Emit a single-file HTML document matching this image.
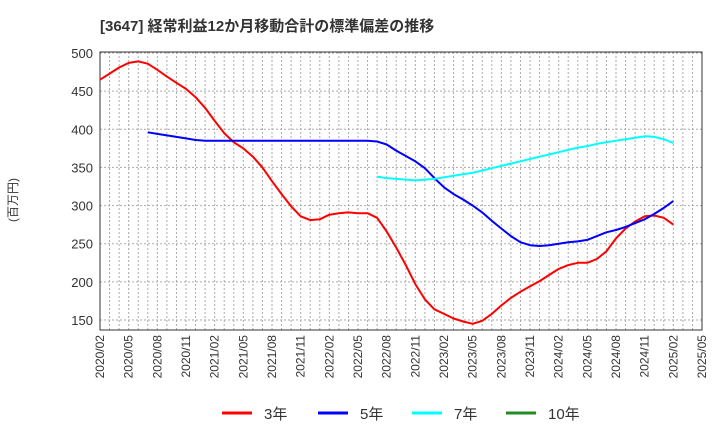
<!DOCTYPE html>
<html><head><meta charset="utf-8"><style>
body{margin:0;background:#fff;width:720px;height:440px;overflow:hidden;font-family:"Liberation Sans","Noto Sans CJK JP",sans-serif}
</style></head><body>
<svg id="c" width="720" height="440" xmlns="http://www.w3.org/2000/svg">
<text x="100" y="31" font-size="15" font-weight="bold" fill="#333" font-family="Liberation Sans, Noto Sans CJK JP, sans-serif">[3647]  経常利益12か月移動合計の標準偏差の推移</text>
<text transform="translate(17,200) rotate(-90)" text-anchor="middle" font-size="12" fill="#333" font-family="Liberation Sans, Noto Sans CJK JP, sans-serif">(百万円)</text>
<g id="grid"></g><g id="axes"></g><g id="series"></g><g id="legend"></g>
</svg>
<script>
const xLabels=["2020/02","2020/05","2020/08","2020/11","2021/02","2021/05","2021/08","2021/11","2022/02","2022/05","2022/08","2022/11","2023/02","2023/05","2023/08","2023/11","2024/02","2024/05","2024/08","2024/11","2025/02","2025/05"];
const yTicks=[150,200,250,300,350,400,450,500];
const s3=[465,473,481,487,489,486,478,469,461,453,442,428,411,395,383,375,364,350,332,315,299,286,281,282,288,290,291,290,290,284,266,245,222,197,177,164,158,152,148,145,149,158,169,179,187,194,201,209,217,222,225,225,230,240,257,270,279,286,287,284,275];
const s5=[396,394,392,390,388,386,385,385,385,385,385,385,385,385,385,385,385,385,385,385,385,385,385,385,384,380,372,365,358,349,336,324,315,308,300,291,280,270,260,252,248,247,248,250,252,253,255,260,265,268,272,277,282,289,297,306];
const s7=[338,336,335,334,333,334,335,337,339,341,343,346,349,352,355,358,361,364,367,370,373,376,378,381,383,385,387,389,391,390,387,382];
const s10=[];
const start5=5, start7=29;
const L=100,R=702,T=52,B=330,months=63;
const X=i=>L+(R-L)*i/months;
const Y=v=>53+(500-v)*(320-53)/350;
const ns="http://www.w3.org/2000/svg";
function mk(p,t,a){const e=document.createElementNS(ns,t);for(const k in a)e.setAttribute(k,a[k]);p.appendChild(e);return e;}
const grid=document.getElementById('grid'),axes=document.getElementById('axes'),ser=document.getElementById('series'),leg=document.getElementById('legend');
for(let i=1;i<months;i++){const l=mk(grid,'line',{x1:X(i),x2:X(i),y1:T,y2:B,stroke:'#aaa','stroke-width':1,'stroke-dasharray':'2,2'});

}
yTicks.forEach(v=>{const l=mk(grid,'line',{x1:L,x2:R,y1:Y(v),y2:Y(v),stroke:'#aaa','stroke-width':1,'stroke-dasharray':'2,2'});


const t=mk(axes,'text',{x:L-7,y:Y(v)+5,'text-anchor':'end','font-size':13,fill:'#333'});t.textContent=v;

});
const fr=mk(axes,'rect',{x:L,y:T,width:R-L,height:B-T,fill:'none',stroke:'#333','stroke-width':1});


xLabels.forEach((s,i)=>{const x=X(i*3)+4;const t=mk(axes,'text',{transform:`translate(${x},${B+5}) rotate(-90)`,'text-anchor':'end','font-size':12,fill:'#333'});t.textContent=s;

});
function line(arr,st,col,name){if(!arr.length)return;const d=arr.map((v,i)=>(i?'L':'M')+X(st+i).toFixed(1)+','+Y(v).toFixed(1)).join('');
const p=mk(ser,'path',{d:d,fill:'none',stroke:col,'stroke-width':2,'stroke-linejoin':'round'});

}
line(s3,0,'#f00','series-3y');line(s5,start5,'#00f','series-5y');line(s7,start7,'#0ff','series-7y');line(s10,0,'#228b22','series-10y');
const lg=[['3年','#f00',222],['5年','#00f',318],['7年','#0ff',412],['10年','#228b22',506]];
lg.forEach(([n,c,x])=>{const g=mk(leg,'g',{});


mk(g,'line',{x1:x,x2:x+30,y1:413,y2:413,stroke:c,'stroke-width':3});
const t=mk(g,'text',{x:x+42,y:419,'font-size':15,fill:'#333'});t.textContent=n;});
</script>
</body></html>
